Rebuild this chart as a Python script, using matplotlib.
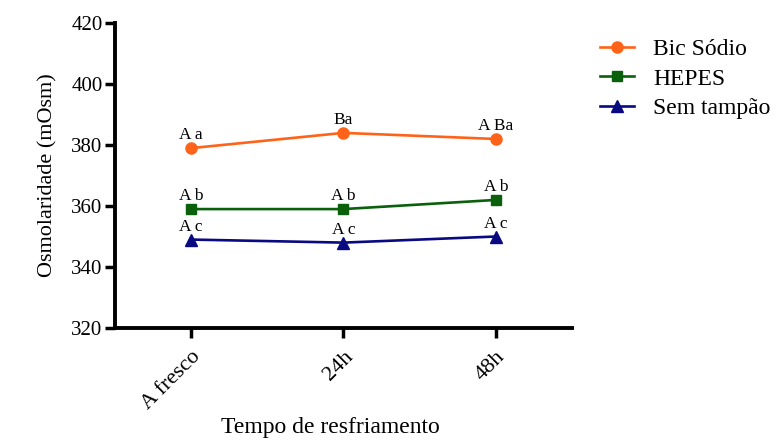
import matplotlib.pyplot as plt

plt.rcParams['font.family'] = ['Liberation Serif', 'DejaVu Serif']

# Tempos de resfriamento
tempos = ['A fresco', '24h', '48h']

# Osmolaridade (mOsm) por tampão
bic_sodio = [379, 384, 382]
hepes = [359, 359, 362]
sem_tampao = [349, 348, 350]

# Letras de significância
letras_bic = ['A a', 'Ba', 'A Ba']
letras_hepes = ['A b', 'A b', 'A b']
letras_sem = ['A c', 'A c', 'A c']

yticks = [320, 340, 360, 380, 400, 420]

fig = plt.figure(figsize=(7.79, 4.45), dpi=100)
ax = fig.add_axes([0.1476, 0.263, 0.5866, 0.685])

x = list(range(len(tempos)))
series = [
    (bic_sodio, letras_bic, '#FF6319', 'o', 'Bic Sódio', 8),
    (hepes, letras_hepes, '#0B600B', 's', 'HEPES', 7.5),
    (sem_tampao, letras_sem, '#0A0A80', '^', 'Sem tampão', 8.5),
]
for vals, letras, cor, mk, nome, ms in series:
    ax.plot(x, vals, color=cor, marker=mk, markersize=ms, linewidth=1.9, label=nome)
    for xi, yi, txt in zip(x, vals, letras):
        ax.annotate(txt, (xi, yi), xytext=(0, 3.5), textcoords='offset points',
                    ha='center', va='bottom', fontsize=12.5)

ax.set_xlim(-0.5, 2.5)
ax.set_ylim(320, 420)
ax.set_yticks(yticks)
ax.set_xticks(x)
ax.set_xticklabels(tempos, rotation=45, ha='right', rotation_mode='anchor', fontsize=16)
ax.tick_params(axis='y', labelsize=15)
ax.tick_params(width=2.5, length=7, direction='out', pad=2)
ax.tick_params(axis='x', pad=7)

for s in ['top', 'right']:
    ax.spines[s].set_visible(False)
for s in ['left', 'bottom']:
    ax.spines[s].set_linewidth(2.8)

ax.set_ylabel('Osmolaridade (mOsm)', fontsize=16, labelpad=10)
fig.text(0.424, 0.015, 'Tempo de resfriamento', fontsize=17, ha='center', va='bottom')

ax.legend(loc='upper left', bbox_to_anchor=(1.015, 1.02), frameon=False,
          fontsize=17, handlelength=1.45, handletextpad=0.8, labelspacing=0.35)

fig.savefig('out.png', dpi=100)
